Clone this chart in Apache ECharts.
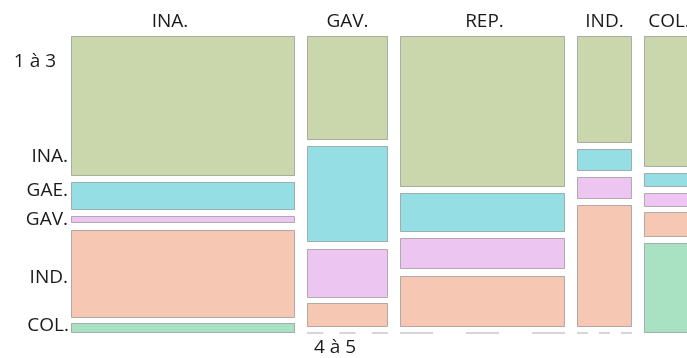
<!DOCTYPE html>
<html>
<head>
<meta charset="utf-8">
<style>
  html, body { margin: 0; padding: 0; background: #ffffff; }
  #chart { width: 687px; height: 358px; }
</style>
<script src="https://cdn.jsdelivr.net/npm/echarts@6/dist/echarts.min.js"></script>
</head>
<body>
<div id="chart"></div>
<script>
// Column categories (horizontal split) and row categories (vertical split)
const columns = ['INA.', 'GAV.', 'REP.', 'IND.', 'COL.'];
const rowNames = ['INA.', 'GAE.', 'GAV.', 'IND.', 'COL.'];

// Counts for each row category, one value per column
const rowINA = [230, 62, 183, 43, 48];
const rowGAE = [46, 57, 47, 9, 5];
const rowGAV = [12, 29, 38, 9, 5];
const rowIND = [144, 14, 62, 49, 9];
const rowCOL = [16, 0, 0, 0, 33];

// Axis-side labels
const leftLabels = ['1 à 3', 'INA.', 'GAE.', 'GAV.', 'IND.', 'COL.'];
const bottomLabel = '4 à 5';

const rowValues = [rowINA, rowGAE, rowGAV, rowIND, rowCOL];
const rowColors = ['#cad7ac', '#95dfe4', '#ecc6f1', '#f6c8b3', '#a9e2c3'];

// Spacing between tiles, in data units of each axis
const gapX = 24;
const gapY = 6 / 273;

const colTotals = columns.map((_, j) => rowValues.reduce((s, r) => s + r[j], 0));
const grand = colTotals.reduce((a, b) => a + b, 0);
const xMax = grand + gapX * (columns.length - 1);
const yMax = 1 + gapY * (rowNames.length - 1);

// Tile extents in data space: [colIdx, rowIdx, x0, x1, y0, y1, count]
const tiles = [];
let xStart = 0;
columns.forEach((c, j) => {
  let yStart = 0;
  rowValues.forEach((r, i) => {
    const frac = r[j] / colTotals[j];
    tiles.push([j, i, xStart, xStart + colTotals[j], yStart, yStart + frac, r[j]]);
    yStart += frac + gapY;
  });
  xStart += colTotals[j] + gapX;
});

const colCenters = [];
xStart = 0;
columns.forEach((c, j) => {
  colCenters.push([xStart + colTotals[j] / 2, j]);
  xStart += colTotals[j] + gapX;
});

const chart = echarts.init(document.getElementById('chart'), null, { renderer: 'canvas' });

const textStyleBase = {
  fontFamily: '"Open Sans", sans-serif',
  fontSize: 19,
  fill: '#1a1a1a'
};

// Header nudges (px) and left label placement
const headerShift = [-13, 0, 2, 0, 0];
const leftYs = [62, 157, 191, 220, 278, 326];
const leftRight = [56, 68, 68, 68, 68, 69];

chart.setOption({
  animation: false,
  backgroundColor: '#ffffff',
  grid: { left: 71, top: 36, width: 623, height: 297, outerBoundsMode: 'none' },
  xAxis: { type: 'value', min: 0, max: xMax, show: false },
  yAxis: { type: 'value', min: 0, max: yMax, inverse: true, show: false },
  series: [
    {
      type: 'custom',
      clip: false,
      data: tiles,
      renderItem: function (params, api) {
        const x0 = api.value(2), x1 = api.value(3);
        const y0 = api.value(4), y1 = api.value(5);
        const row = api.value(1);
        const p0 = api.coord([x0, y0]);
        const p1 = api.coord([x1, y1]);
        if (api.value(6) === 0) {
          const w = p1[0] - p0[0];
          return {
            type: 'line',
            shape: { x1: p0[0], y1: p0[1], x2: p1[0], y2: p0[1] },
            style: { stroke: '#c9c9c9', lineWidth: 1.5, lineDash: [w / 5, w / 5] }
          };
        }
        return {
          type: 'rect',
          shape: { x: Math.round(p0[0]) + 0.5, y: Math.round(p0[1]) + 0.5,
                   width: Math.round(p1[0] - p0[0]) - 1, height: Math.round(p1[1] - p0[1]) - 1 },
          style: { fill: rowColors[row], stroke: 'rgba(120,120,120,0.55)', lineWidth: 1 }
        };
      }
    },
    {
      type: 'custom',
      clip: false,
      data: colCenters,
      renderItem: function (params, api) {
        const j = api.value(1);
        const p = api.coord([api.value(0), 0]);
        return {
          type: 'text',
          x: p[0] + headerShift[j],
          y: p[1] - 14,
          style: Object.assign({}, textStyleBase, {
            text: columns[j], align: 'center', verticalAlign: 'middle'
          })
        };
      }
    }
  ],
  graphic: leftLabels.map((t, k) => ({
    type: 'text',
    x: leftRight[k],
    y: leftYs[k],
    style: Object.assign({}, textStyleBase, { text: t, align: 'right', verticalAlign: 'middle' })
  })).concat([{
    type: 'text',
    x: 335,
    y: 348,
    style: Object.assign({}, textStyleBase, { text: bottomLabel, align: 'center', verticalAlign: 'middle' })
  }])
});
</script>
</body>
</html>
